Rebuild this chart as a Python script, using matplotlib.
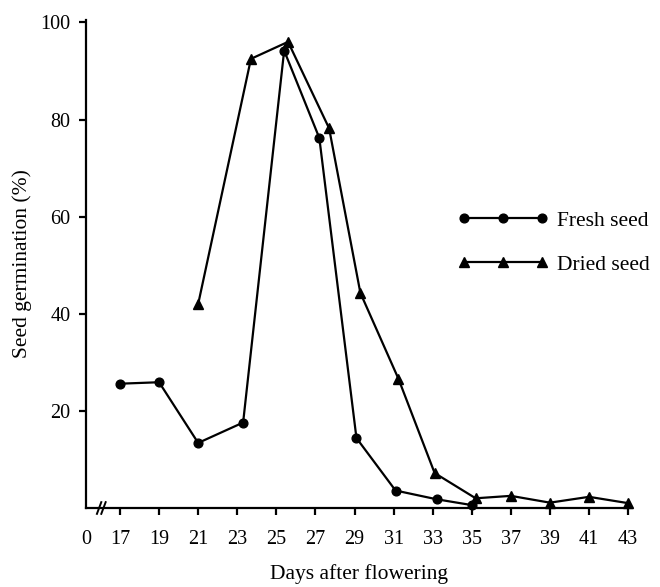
import numpy as np
import matplotlib
matplotlib.use("Agg")
import matplotlib.pyplot as plt

plt.rcParams['font.family'] = ['Liberation Serif', 'DejaVu Serif']

# Data
fresh_days = [17, 19, 21, 23.3, 25.4, 27.2, 29.1, 31.1, 33.2, 35.0]
fresh_vals = [25.6, 25.9, 13.4, 17.6, 94.2, 76.2, 14.4, 3.6, 1.8, 0.6]
dried_days = [21, 23.7, 25.6, 27.7, 29.3, 31.25, 33.1, 35.2, 37, 39, 41, 43]
dried_vals = [42.0, 92.5, 96.0, 78.2, 44.3, 26.6, 7.2, 2.0, 2.5, 1.1, 2.3, 1.0]
x_ticks = [0, 17, 19, 21, 23, 25, 27, 29, 31, 33, 35, 37, 39, 41, 43]
y_ticks = [20, 40, 60, 80, 100]

# broken x-axis: 0..17 compressed
C = 0.87
K = C / 17.0
def fwd(d):
    d = np.asarray(d, dtype=float)
    return np.where(d < 17, d * K, C + (d - 17) / 2.0)
def inv(p):
    p = np.asarray(p, dtype=float)
    return np.where(p < C, p / K, 17 + (p - C) * 2.0)

fig = plt.figure(figsize=(6.6, 5.87), dpi=100)
W, H = 660, 587
ax = fig.add_axes([86 / W, (H - 508) / H, (632 - 86) / W, (508 - 20) / H])
ax.set_xscale('function', functions=(fwd, inv))

ax.plot(fresh_days, fresh_vals, color='black', lw=1.6, marker='o', ms=6.3,
        label='Fresh seed', clip_on=False)
ax.plot(dried_days, dried_vals, color='black', lw=1.6, marker='^', ms=7.6,
        label='Dried seed', clip_on=False)

ax.set_xlim(0, 43.2)
ax.set_ylim(0, 100.5)
ax.set_xticks(x_ticks)
ax.set_xticklabels([str(t) for t in x_ticks])
ax.set_yticks(y_ticks)
ax.set_yticklabels([str(t) for t in y_ticks])
ax.xaxis.set_minor_locator(matplotlib.ticker.NullLocator())

for s in ['top', 'right']:
    ax.spines[s].set_visible(False)
for s in ['left', 'bottom']:
    ax.spines[s].set_linewidth(1.6)
ax.tick_params(axis='both', direction='out', length=5, width=1.6,
               labelsize=14.5, colors='black')
ax.tick_params(axis='x', pad=11)
ax.tick_params(axis='y', pad=6)
# hide the tick at 0 (the y axis sits there)
ax.xaxis.get_major_ticks()[0].tick1line.set_visible(False)

# axis break mark
for xf in (0.024, 0.032):
    ax.plot([xf - 0.004, xf + 0.004], [-0.012, 0.012], transform=ax.transAxes,
            color='black', lw=1.4, clip_on=False)

ax.set_xlabel('Days after flowering', fontsize=15.5, labelpad=10.5)
ax.set_ylabel('Seed germination (%)', fontsize=15.5, labelpad=6)

leg = ax.legend(loc='upper left', bbox_to_anchor=((447 - 86) / 546, (508 - 200) / 488),
                frameon=False, numpoints=3, handlelength=4.2, handletextpad=0.4,
                labelspacing=1.1, fontsize=15.5, borderpad=0)

fig.savefig('out.png', dpi=100)
